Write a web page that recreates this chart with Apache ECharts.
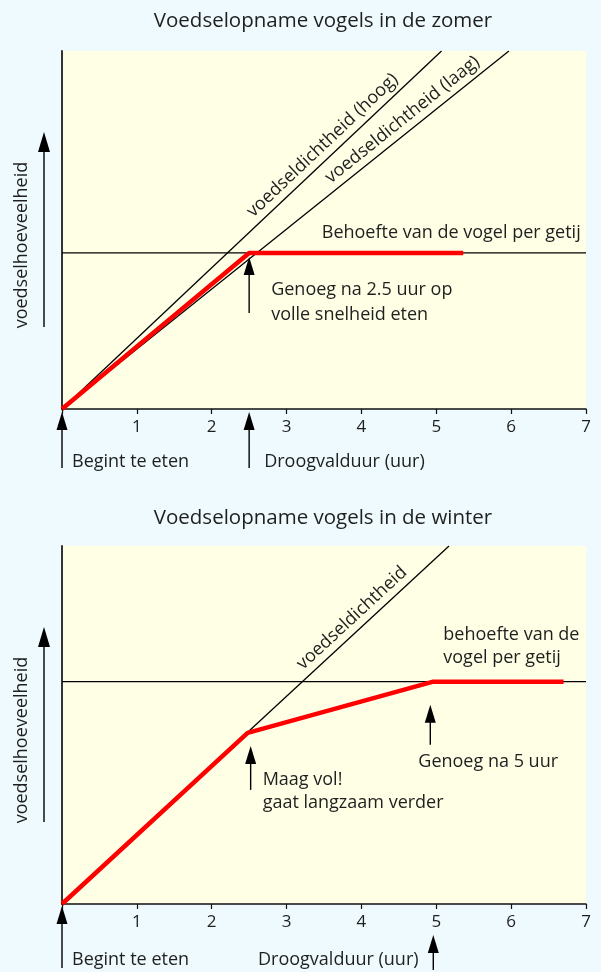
<!DOCTYPE html>
<html><head><meta charset="utf-8">
<script src="https://cdn.jsdelivr.net/npm/echarts@6/dist/echarts.min.js"></script>
<style>html,body{margin:0;padding:0;background:#EEFAFD;}#c{width:601px;height:972px;}</style>
</head><body><div id="c"></div>
<script>
// ---- data ----
const xTickValues = [0, 1, 2, 3, 4, 5, 6, 7];
const summerTitle = 'Voedselopname vogels in de zomer';
const winterTitle = 'Voedselopname vogels in de winter';
const summerDensityHigh = [[0, 0], [5.07, 100]];
const summerDensityLow = [[0, 0], [5.97, 100]];
const summerNeed = [[0, 43.6], [7, 43.6]];
const summerIntake = [[0, 0], [2.5, 43.6], [5.36, 43.6]];
const winterDensity = [[0, 0], [5.17, 100]];
const winterNeed = [[0, 62.1], [7, 62.1]];
const winterIntake = [[0, 0], [2.48, 47.8], [4.96, 62.1], [6.70, 62.1]];

const FONT = '"Open Sans","Noto Sans",sans-serif';
const TXT = '#1f1f1f';
const FS = 18;
const chart = echarts.init(document.getElementById('c'), null, {renderer: 'canvas', width: 601, height: 972});

function xAxis(gi) {
  return {
    type: 'value', gridIndex: gi, min: xTickValues[0], max: xTickValues[xTickValues.length - 1], interval: 1,
    axisLine: {show: true, onZero: false, lineStyle: {color: '#111', width: 1.5}},
    axisTick: {show: true, length: 5, lineStyle: {color: '#111', width: 1.2}},
    axisLabel: {fontSize: 17, color: TXT, fontFamily: FONT, margin: 10, formatter: v => v === 0 ? '' : String(v)},
    splitLine: {show: false}
  };
}
function yAxis(gi) {
  return {
    type: 'value', gridIndex: gi, min: 0, max: 100,
    axisLine: {show: true, lineStyle: {color: '#333', width: 2}},
    axisTick: {show: false}, axisLabel: {show: false}, splitLine: {show: false}
  };
}
function line(gi, data, color, width, z) {
  return {type: 'line', xAxisIndex: gi, yAxisIndex: gi, data: data, symbol: 'none', silent: true,
    lineStyle: {color: color, width: width}, z: z || 2, animation: false};
}

chart.setOption({
  animation: false,
  backgroundColor: '#EEFAFD',
  grid: [
    {left: 62, top: 51, width: 524, height: 358, show: true, backgroundColor: '#FFFFE6', borderWidth: 0},
    {left: 62, top: 546, width: 524, height: 358, show: true, backgroundColor: '#FFFFE6', borderWidth: 0}
  ],
  xAxis: [xAxis(0), xAxis(1)],
  yAxis: [yAxis(0), yAxis(1)],
  series: [
    line(0, summerNeed, '#000', 1.2),
    line(0, summerDensityHigh, '#000', 1.3),
    line(0, summerDensityLow, '#000', 1.3),
    line(0, summerIntake, '#FF0000', 4.5, 5),
    line(1, winterNeed, '#000', 1.2),
    line(1, winterDensity, '#000', 1.3),
    line(1, winterIntake, '#FF0000', 4.5, 5)
  ]
});

function P(si, x, y) { return chart.convertToPixel({seriesIndex: si}, [x, y]); }
const els = [];
function text(x, y, str, align, size, rot) {
  els.push({type: 'text', x: x, y: y, rotation: rot || 0, silent: true, z: 10,
    style: {text: str, fill: TXT, font: (size || FS) + 'px ' + FONT,
      textAlign: align || 'left', textVerticalAlign: 'middle', align: align || 'left', verticalAlign: 'middle'}});
}
function arrow(x, yTip, yBase, hl, hw) {
  hl = hl || 18; hw = hw || 11;
  els.push({type: 'line', silent: true, z: 10, shape: {x1: x, y1: yTip + hl - 2, x2: x, y2: yBase}, style: {stroke: '#000', lineWidth: 1.4}});
  els.push({type: 'polygon', silent: true, z: 10, shape: {points: [[x, yTip], [x - hw / 2, yTip + hl], [x + hw / 2, yTip + hl]]}, style: {fill: '#000'}});
}
function alongText(si, seg, t, off, str, size) {
  const a = P(si, seg[0][0], seg[0][1]);
  const b = P(si, seg[1][0], seg[1][1]);
  const dx = b[0] - a[0], dy = b[1] - a[1];
  const ang = Math.atan2(-dy, dx);
  const cx = a[0] + dx * t - Math.sin(ang) * off;
  const cy = a[1] + dy * t - Math.cos(ang) * off;
  text(cx, cy, str, 'center', size, ang);
}

// ---- summer annotations ----
(function () {
  const o = P(0, 0, 0);
  const top = P(0, 0, 100);
  const need = summerNeed[0][1];
  const corner = P(0, summerIntake[1][0], need);
  text((o[0] + P(0, 7, 0)[0]) / 2 - 1, top[1] - 30, summerTitle, 'center', 20.5);
  alongText(1, summerDensityHigh, 0.71, 13, 'voedseldichtheid (hoog)', FS);
  alongText(2, summerDensityLow, 0.78, 13, 'voedseldichtheid (laag)', FS);
  const bx = P(0, 3.47, need);
  text(bx[0], bx[1] - 20, 'Behoefte van de vogel per getij', 'left', FS);
  arrow(corner[0], corner[1] + 4, corner[1] + 60);
  text(corner[0] + 22, corner[1] + 37, 'Genoeg na 2.5 uur op', 'left', FS);
  text(corner[0] + 22, corner[1] + 62, 'volle snelheid eten', 'left', FS);
  arrow(o[0], o[1] + 3, o[1] + 59);
  text(o[0] + 10, o[1] + 53, 'Begint te eten', 'left', FS);
  arrow(corner[0], o[1] + 3, o[1] + 59);
  text(corner[0] + 15, o[1] + 53, 'Droogvalduur (uur)', 'left', FS);
  const yt = P(0, 0, 77.4), yb = P(0, 0, 22.9);
  arrow(o[0] - 18, yt[1], yb[1], 20, 12);
  const ym = P(0, 0, 45.8);
  text(o[0] - 40, ym[1], 'voedselhoeveelheid', 'center', FS, Math.PI / 2);
})();

// ---- winter annotations ----
(function () {
  const o = P(4, 0, 0);
  const top = P(4, 0, 100);
  const need = winterNeed[0][1];
  const knee = P(4, winterIntake[1][0], winterIntake[1][1]);
  const full = P(4, winterIntake[2][0], need);
  text((o[0] + P(4, 7, 0)[0]) / 2 - 1, top[1] - 28, winterTitle, 'center', 20.5);
  alongText(5, winterDensity, 0.772, 13, 'voedseldichtheid', FS);
  text(full[0] + 10, full[1] - 47, 'behoefte van de', 'left', FS);
  text(full[0] + 10, full[1] - 24, 'vogel per getij', 'left', FS);
  arrow(knee[0] + 3, knee[1] + 13, knee[1] + 57);
  text(knee[0] + 15, knee[1] + 47, 'Maag vol!', 'left', FS);
  text(knee[0] + 15, knee[1] + 70, 'gaat langzaam verder', 'left', FS);
  arrow(full[0] - 3, full[1] + 23, full[1] + 63);
  text(full[0] - 15, full[1] + 80, 'Genoeg na 5 uur', 'left', FS);
  arrow(o[0], o[1] + 2, o[1] + 64);
  text(o[0] + 10, o[1] + 56, 'Begint te eten', 'left', FS);
  text(o[0] + 196, o[1] + 56, 'Droogvalduur (uur)', 'left', FS);
  arrow(full[0], o[1] + 31, o[1] + 66);
  const yt = P(4, 0, 77.4), yb = P(4, 0, 22.9);
  arrow(o[0] - 18, yt[1], yb[1], 20, 12);
  const ym = P(4, 0, 45.8);
  text(o[0] - 40, ym[1], 'voedselhoeveelheid', 'center', FS, Math.PI / 2);
})();

chart.setOption({graphic: {elements: els}});
</script>
</body></html>
